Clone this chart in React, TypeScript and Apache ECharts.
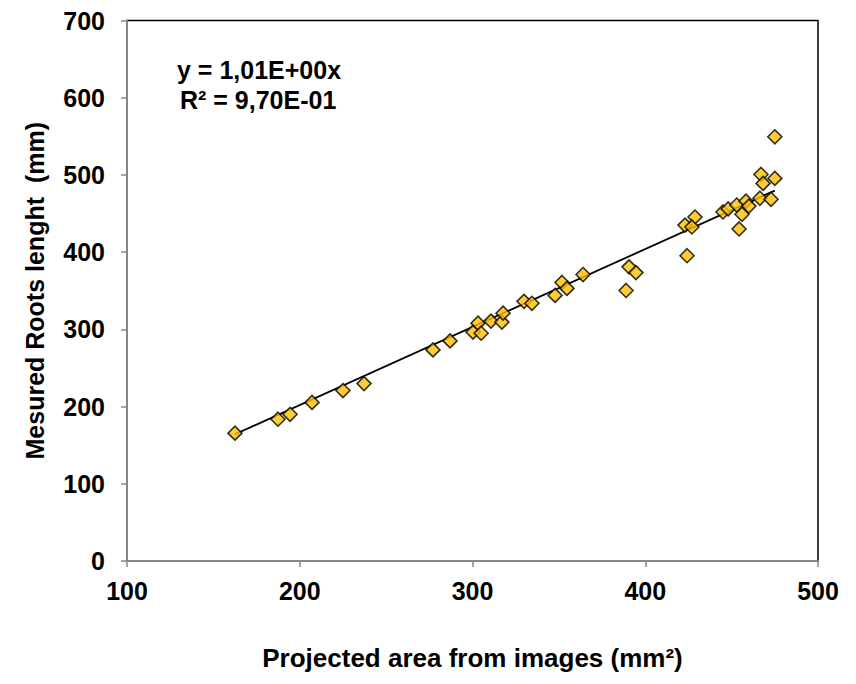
import React, { useEffect, useRef } from "react";
import * as echarts from "echarts";

const projectedArea: number[] = [
  162.5, 187.4, 194.4, 207.1, 225, 237.2,
  277.1, 287, 300.3, 303.2, 305, 310.7, 317, 317.7, 329.8, 334.4, 347.8,
  351.8, 354.7, 364, 388.9, 390.6, 394.6,
  424.2, 423, 428.8, 427, 445, 448, 454.3, 453, 456, 458.3, 460, 466.4, 472.8, 467, 468.2, 475, 475,
];
const rootLength: number[] = [
  165.6, 183.6, 190, 205.4, 220.8, 229.8,
  273.4, 285, 296.5, 308, 295, 310.7, 309.4, 321, 336.3, 333.8, 344,
  360.7, 353, 371, 350.4, 381, 373.5,
  395.4, 435, 445.5, 432.6, 452, 456, 430, 461, 449, 466, 459.6, 469.8, 468.5, 500.6, 489, 495.5, 549.4,
];
const trendSlope = 1.01;
const xTicks = [100, 200, 300, 400, 500];
const yTicks = [0, 100, 200, 300, 400, 500, 600, 700];
const equationLines = ["y = 1,01E+00x", "R² = 9,70E-01"];

export default function App() {
  const ref = useRef<HTMLDivElement>(null);
  useEffect(() => {
    if (!ref.current) return;
    const chart = echarts.init(ref.current, null, { renderer: "svg" });
    const points = projectedArea.map((x, i) => [x, rootLength[i]]);
    const xMin = Math.min(...projectedArea);
    const xMax = Math.max(...projectedArea);
    const trend = [
      [xMin, xMin * trendSlope],
      [xMax, xMax * trendSlope],
    ];
    const font = "'Liberation Sans', Arial, sans-serif";
    chart.setOption({
      animation: false,
      backgroundColor: "#ffffff",
      textStyle: { fontFamily: font },
      grid: {
        left: 119,
        right: 30,
        top: 9,
        bottom: 114,
        show: true,
        borderColor: "#000000",
        borderWidth: 1.5,
        backgroundColor: "#ffffff",
      },
      xAxis: {
        type: "value",
        min: xTicks[0],
        max: xTicks[xTicks.length - 1],
        interval: 100,
        name: "Projected area from images (mm²)",
        nameLocation: "middle",
        nameGap: 84,
        nameTextStyle: { fontSize: 26, fontWeight: "bold", color: "#000", fontFamily: font },
        axisLine: { show: true, lineStyle: { color: "#868686", width: 2 } },
        axisTick: { show: true, inside: false, length: 6, lineStyle: { color: "#868686", width: 1.5 } },
        axisLabel: { fontSize: 25, fontWeight: "bold", color: "#000", margin: 17, fontFamily: font },
        splitLine: { show: false },
      },
      yAxis: {
        type: "value",
        min: yTicks[0],
        max: yTicks[yTicks.length - 1],
        interval: 100,
        name: "Mesured Roots lenght  (mm)",
        nameLocation: "middle",
        nameGap: 80,
        nameTextStyle: { fontSize: 25, fontWeight: "bold", color: "#000", fontFamily: font },
        axisLine: { show: true, lineStyle: { color: "#868686", width: 2 } },
        axisTick: { show: true, inside: false, length: 6, lineStyle: { color: "#868686", width: 1.5 } },
        axisLabel: { fontSize: 25, fontWeight: "bold", color: "#000", margin: 22, fontFamily: font },
        splitLine: { show: false },
      },
      series: [
        {
          type: "line",
          data: trend,
          showSymbol: false,
          symbol: "none",
          lineStyle: { color: "#000000", width: 1.8 },
          z: 2,
          silent: true,
        },
        {
          type: "scatter",
          data: points,
          symbol: "diamond",
          symbolSize: 14,
          itemStyle: { color: "#FFC000", borderColor: "#000000", borderWidth: 1.6 },
          z: 3,
        },
      ],
      graphic: [
        {
          type: "text",
          left: 169,
          top: 49,
          style: {
            text: equationLines[0],
            font: `bold 25px ${font}`,
            fill: "#000",
          },
        },
        {
          type: "text",
          left: 172,
          top: 79,
          style: {
            text: equationLines[1],
            font: `bold 25px ${font}`,
            fill: "#000",
          },
        },
      ],
    });
    return () => chart.dispose();
  }, []);
  return <div ref={ref} style={{ width: 840, height: 668 }} />;
}
